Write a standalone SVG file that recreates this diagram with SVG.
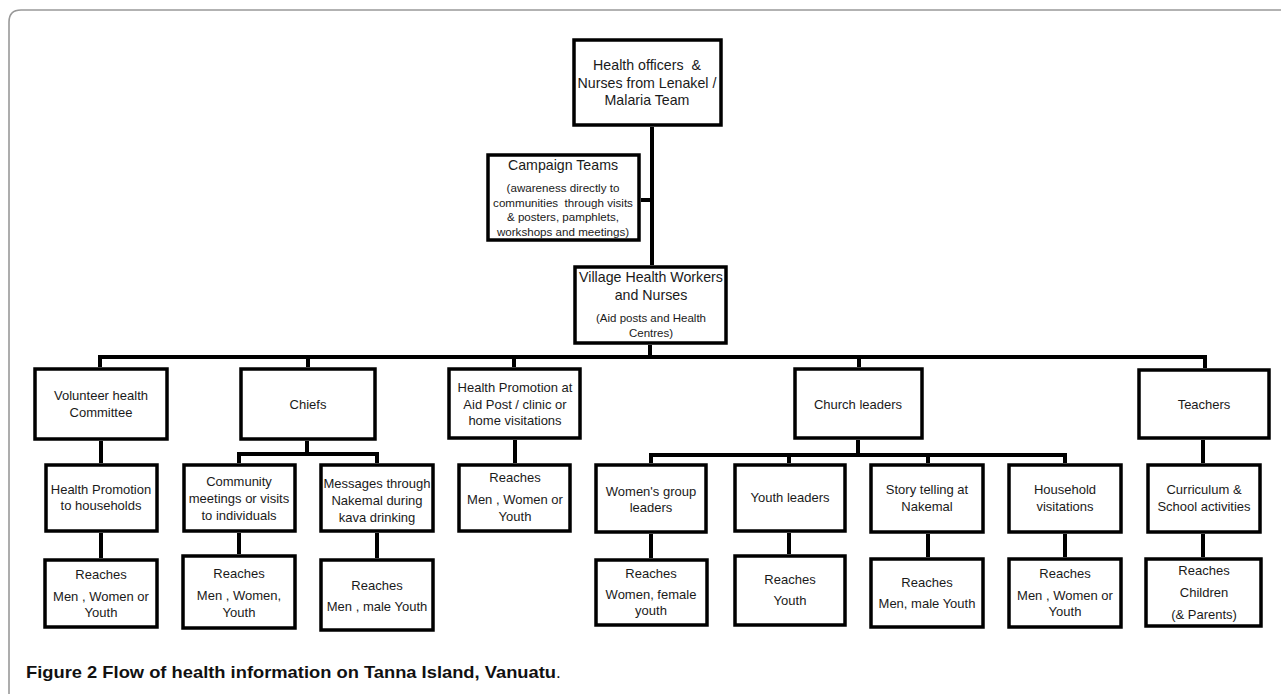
<svg xmlns="http://www.w3.org/2000/svg" width="1281" height="694" viewBox="0 0 1281 694">
<style>
.box{fill:#fff;stroke:#000;stroke-width:3.5}
.t{font-family:"Liberation Sans",Arial,sans-serif;font-size:13px;fill:#1a1a1a;text-anchor:middle}
.tb{font-size:14.2px}
.tv{font-size:14.2px}
.ts{font-size:11.6px}
.ta{font-size:11.5px}
.c{fill:none;stroke:#000;stroke-width:4;stroke-linejoin:miter}
.cap{font-family:"Liberation Sans",Arial,sans-serif;font-size:17px;fill:#111}
</style>
<rect width="1281" height="694" fill="#fff"/>
<path d="M9,694 V22 Q9,10 21,10 H1281" fill="none" stroke="#999" stroke-width="1.6"/>
<g id="connectors">
<path class="c" d="M652,127 V265"/>
<path class="c" d="M641,200 H652"/>
<path class="c" d="M650,345 V357"/>
<path class="c" d="M100,367 V357 H1205 V368"/>
<path class="c" d="M308,357 V367 M514,357 V367 M859,357 V367"/>
<path class="c" d="M101,441 V463 M101,533 V558"/>
<path class="c" d="M307,441 V454"/>
<path class="c" d="M239,463 V454 H377 V463"/>
<path class="c" d="M239,533 V554 M377,533 V558"/>
<path class="c" d="M515,440 V463"/>
<path class="c" d="M858,440 V455"/>
<path class="c" d="M651,463 V455 H1065 V463"/>
<path class="c" d="M789,455 V463 M928,455 V463"/>
<path class="c" d="M651,534 V558 M789,533 V554 M928,534 V557 M1065,534 V557"/>
<path class="c" d="M1203,440 V463 M1203,534 V557"/>
</g>
<g id="n-top"><rect class="box" x="574" y="40" width="147" height="85"/>
<text class="t tb" x="647" y="70">Health officers &#160;&amp;</text>
<text class="t tb" x="647" y="88">Nurses from Lenakel /</text>
<text class="t tb" x="647" y="105">Malaria Team</text></g>
<g id="n-campaign"><rect class="box" x="488" y="155" width="151" height="85"/>
<text class="t tb" x="563" y="170">Campaign Teams</text>
<text class="t ts" x="563" y="192">(awareness directly to</text>
<text class="t ts" x="563" y="207">communities &#160;through visits</text>
<text class="t ts" x="563" y="221">&amp; posters, pamphlets,</text>
<text class="t ts" x="563" y="236">workshops and meetings)</text></g>
<g id="n-village"><rect class="box" x="575" y="267" width="151" height="76"/>
<text class="t tv" x="651" y="282">Village Health Workers</text>
<text class="t tv" x="651" y="300">and Nurses</text>
<text class="t ta" x="651" y="322">(Aid posts and Health</text>
<text class="t ta" x="651" y="337">Centres)</text></g>
<g id="n-volunteer"><rect class="box" x="35" y="369" width="132" height="70"/>
<text class="t" x="101" y="400">Volunteer health</text>
<text class="t" x="101" y="417">Committee</text></g>
<g id="n-chiefs"><rect class="box" x="241" y="369" width="134" height="70"/>
<text class="t" x="308" y="409">Chiefs</text></g>
<g id="n-hpaid"><rect class="box" x="449" y="369" width="131" height="69"/>
<text class="t" x="515" y="392">Health Promotion at</text>
<text class="t" x="515" y="409">Aid Post / clinic or</text>
<text class="t" x="515" y="425">home visitations</text></g>
<g id="n-church"><rect class="box" x="795" y="369" width="127" height="69"/>
<text class="t" x="858" y="409">Church leaders</text></g>
<g id="n-teachers"><rect class="box" x="1139" y="370" width="130" height="68"/>
<text class="t" x="1204" y="409">Teachers</text></g>
<g id="n-hph"><rect class="box" x="46" y="465" width="111" height="66"/>
<text class="t" x="101" y="494">Health Promotion</text>
<text class="t" x="101" y="510">to households</text></g>
<g id="n-community"><rect class="box" x="184" y="465" width="111" height="66"/>
<text class="t" x="239" y="486">Community</text>
<text class="t" x="239" y="503">meetings or visits</text>
<text class="t" x="239" y="520">to individuals</text></g>
<g id="n-messages"><rect class="box" x="321" y="465" width="112" height="66"/>
<text class="t" x="377" y="488">Messages through</text>
<text class="t" x="377" y="505">Nakemal during</text>
<text class="t" x="377" y="522">kava drinking</text></g>
<g id="n-reach-hpaid"><rect class="box" x="459" y="465" width="111" height="66"/>
<text class="t" x="515" y="482">Reaches</text>
<text class="t" x="515" y="504">Men , Women or</text>
<text class="t" x="515" y="521">Youth</text></g>
<g id="n-women"><rect class="box" x="596" y="465" width="110" height="67"/>
<text class="t" x="651" y="496">Women's group</text>
<text class="t" x="651" y="512">leaders</text></g>
<g id="n-youthl"><rect class="box" x="735" y="465" width="110" height="66"/>
<text class="t" x="790" y="502">Youth leaders</text></g>
<g id="n-story"><rect class="box" x="871" y="465" width="112" height="67"/>
<text class="t" x="927" y="494">Story telling at</text>
<text class="t" x="927" y="511">Nakemal</text></g>
<g id="n-household"><rect class="box" x="1009" y="465" width="112" height="67"/>
<text class="t" x="1065" y="494">Household</text>
<text class="t" x="1065" y="511">visitations</text></g>
<g id="n-curriculum"><rect class="box" x="1148" y="465" width="112" height="67"/>
<text class="t" x="1204" y="494">Curriculum &amp;</text>
<text class="t" x="1204" y="511">School activities</text></g>
<g id="n-r1"><rect class="box" x="45" y="560" width="112" height="67"/>
<text class="t" x="101" y="579">Reaches</text>
<text class="t" x="101" y="601">Men , Women or</text>
<text class="t" x="101" y="617">Youth</text></g>
<g id="n-r2"><rect class="box" x="183" y="556" width="112" height="72"/>
<text class="t" x="239" y="578">Reaches</text>
<text class="t" x="239" y="600">Men , Women,</text>
<text class="t" x="239" y="617">Youth</text></g>
<g id="n-r3"><rect class="box" x="321" y="560" width="112" height="70"/>
<text class="t" x="377" y="590">Reaches</text>
<text class="t" x="377" y="611">Men , male Youth</text></g>
<g id="n-rwomen"><rect class="box" x="596" y="560" width="111" height="65"/>
<text class="t" x="651" y="578">Reaches</text>
<text class="t" x="651" y="599">Women, female</text>
<text class="t" x="651" y="615">youth</text></g>
<g id="n-ryouth"><rect class="box" x="735" y="556" width="110" height="69"/>
<text class="t" x="790" y="584">Reaches</text>
<text class="t" x="790" y="605">Youth</text></g>
<g id="n-rstory"><rect class="box" x="871" y="559" width="112" height="68"/>
<text class="t" x="927" y="587">Reaches</text>
<text class="t" x="927" y="608">Men, male Youth</text></g>
<g id="n-rhouse"><rect class="box" x="1009" y="559" width="112" height="68"/>
<text class="t" x="1065" y="578">Reaches</text>
<text class="t" x="1065" y="600">Men , Women or</text>
<text class="t" x="1065" y="616">Youth</text></g>
<g id="n-rchildren"><rect class="box" x="1146" y="559" width="115" height="67"/>
<text class="t" x="1204" y="575">Reaches</text>
<text class="t" x="1204" y="597">Children</text>
<text class="t" x="1204" y="619">(&amp; Parents)</text></g>
<text class="cap" x="26" y="678"><tspan font-weight="bold" textLength="530" lengthAdjust="spacingAndGlyphs">Figure 2 Flow of health information on Tanna Island, Vanuatu</tspan>.</text>
</svg>
